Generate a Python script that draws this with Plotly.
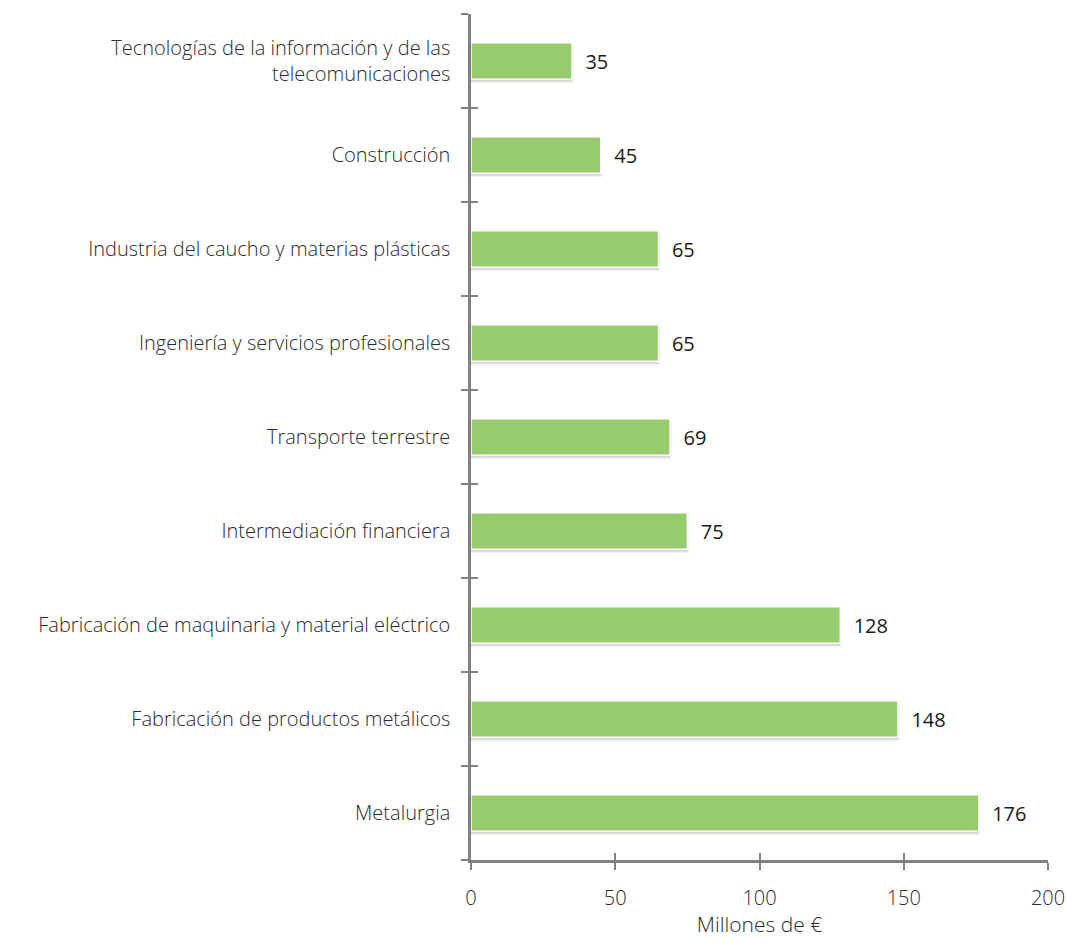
import plotly.graph_objects as go

categories = [
    "Metalurgia",
    "Fabricación de productos metálicos",
    "Fabricación de maquinaria y material eléctrico",
    "Intermediación financiera",
    "Transporte terrestre",
    "Ingeniería y servicios profesionales",
    "Industria del caucho y materias plásticas",
    "Construcción",
    "Tecnologías de la información y de las<br>telecomunicaciones",
]
values = [176, 148, 128, 75, 69, 65, 65, 45, 35]
x_ticks = [0, 50, 100, 150, 200]

FONT = "Open Sans"
AXIS_COLOR = "#808085"
TXT = "#2b2b2b"

fig = go.Figure()
# soft shadow
fig.add_trace(go.Bar(
    y=categories, x=values, orientation="h",
    width=0.40, offset=-0.22,
    marker=dict(color="rgba(0,0,0,0.12)", line=dict(width=3, color="rgba(0,0,0,0.05)")),
    hoverinfo="skip", showlegend=False,
))
fig.add_trace(go.Bar(
    y=categories, x=values, orientation="h",
    width=0.39,
    marker=dict(color="#96CB6E", line=dict(width=1.5, color="#ffffff")),
    text=["  " + str(v) for v in values],
    textposition="outside",
    textfont=dict(family=FONT, size=20, color="#1a1a1a"),
    cliponaxis=False,
    showlegend=False,
))

fig.update_layout(
    width=1066, height=938,
    margin=dict(l=471, r=18, t=14, b=78, autoexpand=False),
    paper_bgcolor="white", plot_bgcolor="white",
    barmode="overlay",
    font=dict(family=FONT, color=TXT),
    xaxis=dict(
        range=[0, 200], tickvals=x_ticks, showgrid=False, zeroline=False,
        showline=True, linecolor=AXIS_COLOR, linewidth=2.5,
        ticks="outside", ticklen=7, tickwidth=2, tickcolor=AXIS_COLOR,
        tickfont=dict(family=FONT, size=20, color=TXT, weight=300),
        ticklabelstandoff=11, automargin=False,
        title=dict(text="Millones de €", font=dict(family=FONT, size=21, color=TXT, weight=300), standoff=2),
    ),
    xaxis2=dict(
        overlaying="x", range=[0, 200], tickvals=x_ticks, showgrid=False, zeroline=False,
        ticks="inside", ticklen=7, tickwidth=2, tickcolor=AXIS_COLOR, showticklabels=False,
        side="bottom", anchor="y", automargin=False,
    ),
    yaxis=dict(
        categoryorder="array", categoryarray=categories, range=[-0.5, 8.5],
        showgrid=False, zeroline=False,
        showline=True, linecolor=AXIS_COLOR, linewidth=2.5,
        ticks="outside", tickson="boundaries", ticklen=7, tickwidth=2, tickcolor=AXIS_COLOR,
        tickfont=dict(family=FONT, size=20, color=TXT, weight=300),
        ticklabelstandoff=14, automargin=False,
    ),
    yaxis2=dict(
        overlaying="y", categoryorder="array", categoryarray=categories, range=[-0.5, 8.5],
        showgrid=False, zeroline=False, side="left", anchor="x",
        ticks="inside", tickson="boundaries", ticklen=7, tickwidth=2, tickcolor=AXIS_COLOR,
        showticklabels=False, automargin=False,
    ),
)
# invisible traces to activate the inside-tick overlay axes
fig.add_trace(go.Scatter(x=[None], y=[None], xaxis="x2", yaxis="y", showlegend=False, hoverinfo="skip"))
fig.add_trace(go.Scatter(x=[None] * len(categories), y=categories, xaxis="x", yaxis="y2",
                         mode="markers", showlegend=False, hoverinfo="skip"))

fig.write_html("out.html", config={"displayModeBar": False},
               post_script="document.body.style.margin='0';document.body.style.overflow='hidden';")
